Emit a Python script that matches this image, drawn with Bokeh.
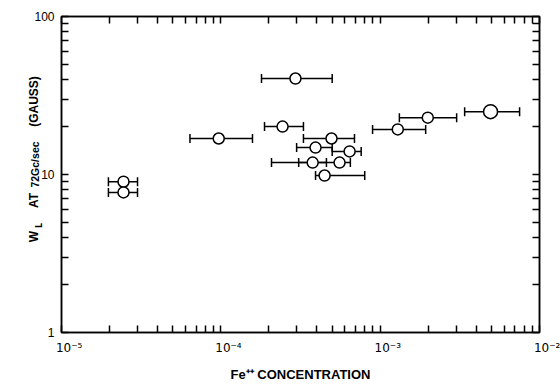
from bokeh.plotting import figure
from bokeh.models import (ColumnDataSource, Whisker, TeeHead, LogAxis, LinearAxis, FixedTicker,
                          CustomJSTickFormatter, Range1d, LinearScale)
from bokeh.embed import file_html
from bokeh.resources import INLINE

# ---- data ----
fe_conc = [2.45e-5, 2.45e-5, 9.7e-5, 2.94e-4, 2.44e-4, 4.95e-4, 3.93e-4,
           6.43e-4, 3.77e-4, 5.56e-4, 4.48e-4, 1.29e-3, 1.99e-3, 4.93e-3]
w_l = [9.0, 7.7, 16.9, 40.5, 20.1, 16.9, 14.8, 14.0, 11.9, 11.9, 9.85,
       19.3, 22.9, 25.0]
fe_low = [1.97e-5, 1.97e-5, 6.4e-5, 1.80e-4, 1.88e-4, 3.3e-4, 2.99e-4,
          5.0e-4, 2.08e-4, 3.08e-4, 3.93e-4, 8.96e-4, 1.32e-3, 3.39e-3]
fe_high = [3.0e-5, 3.0e-5, 1.58e-4, 5.0e-4, 3.3e-4, 6.9e-4, 5.0e-4,
           7.6e-4, 4.6e-4, 6.5e-4, 8.0e-4, 1.93e-3, 3.02e-3, 7.5e-3]

x_major = [1e-5, 1e-4, 1e-3, 1e-2]
y_major = [1, 10, 100]

x_title = "Fe\u207a\u207a CONCENTRATION"
y_title_main = ["W", "AT", "(GAUSS)"]
y_title_sub = ["L"]
y_title_small = ["72Gc/sec"]

# ---- style / layout ----
marker_sizes = [11] * 13 + [14]
# positions of the y-title pieces, in pixels above the bottom of the frame
y_title_main_px = [96, 132, 231]
y_title_sub_px = [107]
y_title_small_px = [168]

x_minor = [m * d for d in x_major[:-1] for m in range(2, 10)]
y_minor = [m * d for d in y_major[:-1] for m in range(2, 10)]

src = ColumnDataSource(dict(x=fe_conc, y=w_l, lo=fe_low, hi=fe_high, s=marker_sizes))

W, H = 560, 385
BL, BR, BT, BB = 61, 21, 16, 53
p = figure(width=W, height=H, x_axis_type="log", y_axis_type="log",
           x_range=Range1d(1e-5, 1e-2), y_range=Range1d(1, 100),
           output_backend="svg", toolbar_location=None,
           min_border_left=BL, min_border_right=BR, min_border_top=BT, min_border_bottom=BB)
p.grid.visible = False
p.background_fill_color = "white"
p.border_fill_color = "white"
p.outline_line_color = "black"
p.outline_line_width = 1.5
p.extra_y_ranges = {"px": Range1d(0, H - BT - BB)}
p.extra_y_scales = {"px": LinearScale()}

xt = FixedTicker(ticks=x_major, minor_ticks=x_minor)
yt = FixedTicker(ticks=y_major, minor_ticks=y_minor)

sup_js = """
const m = {"-":"\u207b","0":"\u2070","1":"\u00b9","2":"\u00b2","3":"\u00b3","4":"\u2074",
           "5":"\u2075","6":"\u2076","7":"\u2077","8":"\u2078","9":"\u2079"};
const e = Math.round(Math.log10(tick));
return "\u2007\u2007" + "10" + String(e).split("").map(c => m[c]).join("");
"""
xfmt = CustomJSTickFormatter(code=sup_js)
yfmt = CustomJSTickFormatter(code="return String(Math.round(tick));")
blank = CustomJSTickFormatter(code="return '';")

def style_axis(ax, ticker, fmt, show_labels=True):
    ax.ticker = ticker
    ax.formatter = fmt
    ax.axis_line_color = "black"
    ax.axis_line_width = 1.5
    ax.major_tick_in = 7
    ax.major_tick_out = 0
    ax.minor_tick_in = 7
    ax.minor_tick_out = 0
    ax.major_tick_line_width = 1.5
    ax.minor_tick_line_width = 1.5
    ax.major_tick_line_color = "black"
    ax.minor_tick_line_color = "black"
    ax.major_label_text_font = "Liberation Sans"
    ax.major_label_text_font_size = "12px"
    ax.major_label_text_color = "black"
    if not show_labels:
        ax.major_label_standoff = 0
        ax.major_label_text_font_size = "0px"

bx = p.xaxis[0]
style_axis(bx, xt, xfmt)
bx.major_label_text_font = "DejaVu Sans"
bx.major_label_standoff = 8
bx.axis_label = x_title
bx.axis_label_text_font = "Liberation Sans"
bx.axis_label_text_font_size = "13px"
bx.axis_label_text_font_style = "bold"
bx.axis_label_text_color = "black"
bx.axis_label_standoff = 9

ly = p.yaxis[0]
style_axis(ly, yt, yfmt)
ly.major_label_standoff = 7

top = LogAxis()
style_axis(top, xt, blank, show_labels=False)
right = LogAxis()
style_axis(right, yt, blank, show_labels=False)
p.add_layout(top, "above")
p.add_layout(right, "right")

def title_axis(ticks, labels, font, size, standoff):
    ax = LinearAxis(y_range_name="px",
                    ticker=FixedTicker(ticks=ticks, minor_ticks=[]),
                    formatter=CustomJSTickFormatter(args=dict(labels=labels),
                                                    code="return labels[index];"))
    ax.axis_line_color = None
    ax.major_tick_line_color = None
    ax.minor_tick_line_color = None
    ax.major_tick_in = 0
    ax.major_tick_out = 0
    ax.minor_tick_in = 0
    ax.minor_tick_out = 0
    ax.major_label_orientation = "vertical"
    ax.major_label_text_font = font
    ax.major_label_text_font_size = size
    ax.major_label_text_font_style = "bold"
    ax.major_label_text_color = "black"
    ax.major_label_standoff = standoff
    p.add_layout(ax, "left")
    return ax

title_axis(y_title_sub_px, y_title_sub, "DejaVu Sans", "8px", -12)
title_axis(y_title_small_px, y_title_small, "Liberation Sans", "10.5px", -9)
title_axis(y_title_main_px, y_title_main, "Liberation Sans", "12px", -15)

wh = Whisker(source=src, base="y", lower="lo", upper="hi", dimension="width",
             line_color="black", line_width=1.5,
             lower_head=TeeHead(size=9, line_width=1.5, line_color="black"),
             upper_head=TeeHead(size=9, line_width=1.5, line_color="black"))
p.add_layout(wh)

p.scatter("x", "y", source=src, size="s", marker="circle", fill_color="white",
          line_color="black", line_width=1.5)

open("out.html", "w").write(file_html(p, INLINE))
